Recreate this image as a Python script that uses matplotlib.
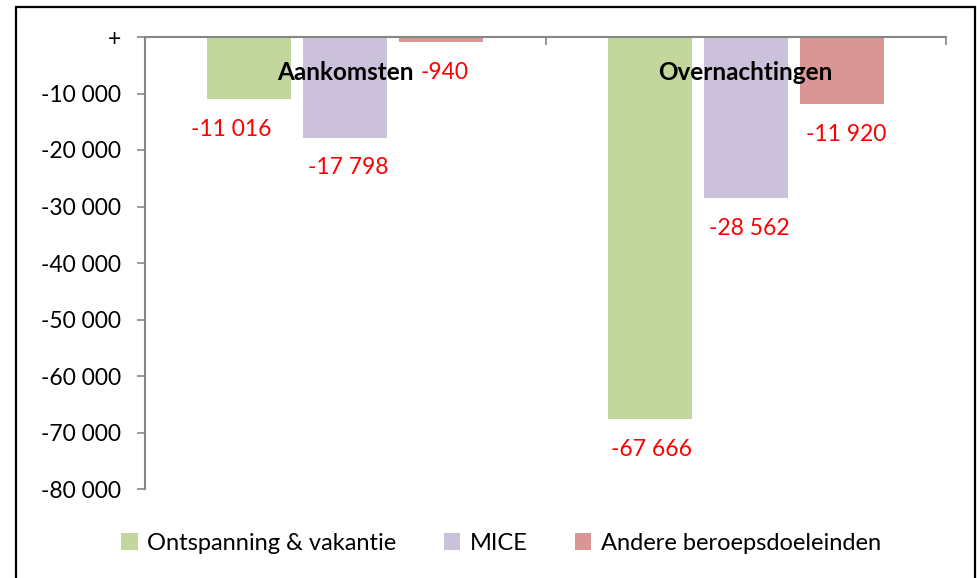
import matplotlib
matplotlib.use("Agg")
import matplotlib.pyplot as plt
from matplotlib.patches import Rectangle
import numpy as np

categories = ["Aankomsten", "Overnachtingen"]
series = ["Ontspanning & vakantie", "MICE", "Andere beroepsdoeleinden"]
ontspanning = [-11016, -67666]
mice = [-17798, -28562]
andere = [-940, -11920]
values = [ontspanning, mice, andere]
colors = ["#C3D69B", "#CCC1DA", "#D99694"]
yticks = [0, -10000, -20000, -30000, -40000, -50000, -60000, -70000, -80000]
ytick_labels = ["+", "-10 000", "-20 000", "-30 000", "-40 000", "-50 000",
                "-60 000", "-70 000", "-80 000"]

def fmt(v):
    s = f"{abs(v):,}".replace(",", " ")
    return "-" + s

plt.rcParams['font.family'] = ['Lato', 'DejaVu Sans']

W, H = 978, 578
fig = plt.figure(figsize=(W / 100, H / 100), dpi=100)
ax = fig.add_axes([145 / W, 1 - 489 / H, (946 - 145) / W, (489 - 37) / H])

x = np.arange(len(categories)) + 0.5
width = 0.21
step = 0.24
label_dx = [[-18, 2], [3, 4], [3, 4]]
for i, (vals, c) in enumerate(zip(values, colors)):
    pos = x + (i - 1) * step
    ax.bar(pos, vals, width=width, color=c, label=series[i], zorder=2)
    for j, (p, v) in enumerate(zip(pos, vals)):
        ax.annotate(fmt(v), xy=(p, v), xytext=(label_dx[i][j], -30),
                    textcoords="offset pixels", ha="center", va="center",
                    color="#FF0000", fontsize=16.5)

for xc, cat in zip(x, categories):
    ax.annotate(cat, xy=(xc, 0), xytext=(0, -35), textcoords="offset pixels",
                ha="center", va="center", fontsize=17.5, fontweight="bold",
                color="black", zorder=5)

ax.set_xlim(0, 2)
ax.set_ylim(-80000, 0)
ax.set_yticks(yticks)
ax.set_yticklabels(ytick_labels, fontsize=16.5)
ax.set_xticks([0, 1, 2])
ax.set_xticklabels([])
ax.xaxis.set_ticks_position("top")
ax.tick_params(axis="x", direction="in", length=5.5, width=1.2, color="#868686")
ax.tick_params(axis="y", direction="out", length=5.5, width=1.2, color="#868686", pad=12)
for s in ["right", "bottom"]:
    ax.spines[s].set_visible(False)
for s in ["left", "top"]:
    ax.spines[s].set_color("#868686")
    ax.spines[s].set_linewidth(1.5)
ax.spines["top"].set_zorder(3)

leg = fig.legend(loc="center", bbox_to_anchor=(501 / W, 1 - 543 / H), ncol=3,
                 frameon=False, fontsize=17, handlelength=0.7, handleheight=0.7,
                 columnspacing=2.0, handletextpad=0.4)

fig.patches.append(Rectangle((16 / W, -0.02), (975 - 16) / W, (578 - 7) / H + 0.02,
                             transform=fig.transFigure, fill=False,
                             edgecolor="black", linewidth=1.6))

fig.savefig("out.png", dpi=100)
